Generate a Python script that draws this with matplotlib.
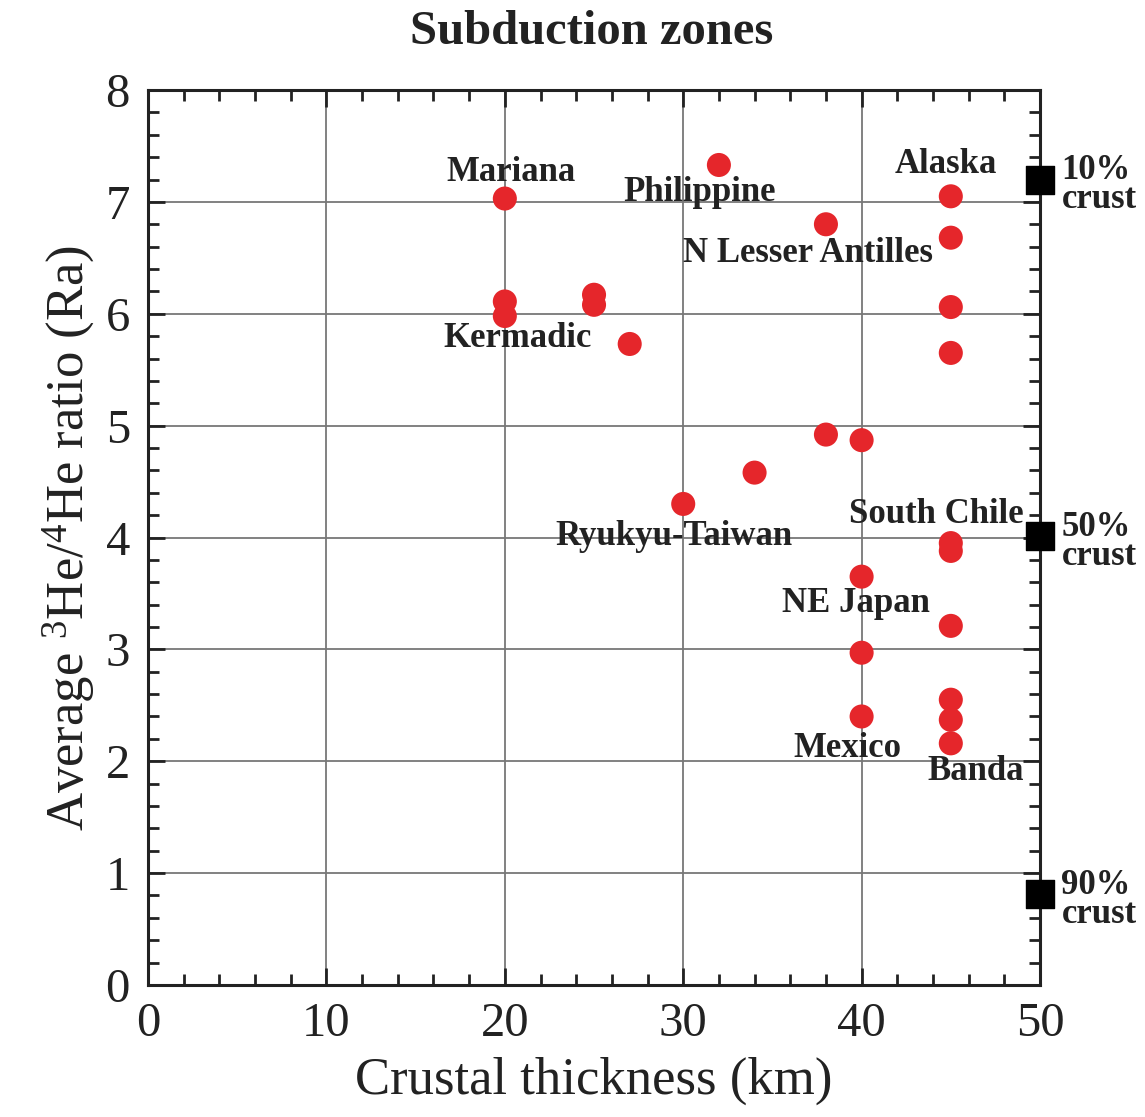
import matplotlib
matplotlib.use("Agg")
import matplotlib.pyplot as plt
from matplotlib.ticker import MultipleLocator

plt.rcParams['font.family'] = ['Liberation Serif', 'DejaVu Serif']
plt.rcParams['mathtext.fontset'] = 'custom'
plt.rcParams['mathtext.rm'] = 'Liberation Serif'
plt.rcParams['mathtext.it'] = 'Liberation Serif:italic'
plt.rcParams['mathtext.bf'] = 'Liberation Serif:bold'

# Data: crustal thickness (km) vs average 3He/4He (Ra)
thickness = [20, 20, 20, 25, 25, 27, 32, 38, 45, 45, 45, 45,
             38, 40, 34, 30, 45, 45, 40, 45, 40, 45, 45, 45, 40]
he_ratio = [7.03, 6.11, 5.98, 6.17, 6.08, 5.73, 7.33, 6.80, 7.05, 6.68, 6.06, 5.65,
            4.92, 4.87, 4.58, 4.30, 3.95, 3.88, 3.65, 3.21, 2.97, 2.55, 2.37, 2.16, 2.40]

crust_x = [50, 50, 50]
crust_y = [7.2, 4.01, 0.81]
crust_labels = ["10%\ncrust", "50%\ncrust", "90%\ncrust"]

zone_labels = ["Mariana", "Philippine", "Alaska", "N Lesser Antilles", "Kermadic",
               "Ryukyu-Taiwan", "South Chile", "NE Japan", "Mexico", "Banda"]
zone_label_x = [20.35, 30.9, 44.7, 37.0, 20.7, 29.5, 44.2, 39.7, 39.2, 46.4]
zone_label_y = [7.26, 7.08, 7.33, 6.54, 5.78, 4.01, 4.21, 3.41, 2.11, 1.91]

fig = plt.figure(figsize=(11.45, 11.17), dpi=100)
ax = fig.add_axes([0.1293, 0.1182, 0.9083 - 0.1293, 0.9194 - 0.1182])

ax.set_xlim(0, 50)
ax.set_ylim(0, 8)
ax.xaxis.set_major_locator(MultipleLocator(10))
ax.xaxis.set_minor_locator(MultipleLocator(2))
ax.yaxis.set_major_locator(MultipleLocator(1))
ax.yaxis.set_minor_locator(MultipleLocator(0.2))
ax.grid(True, which='major', color='#777777', linewidth=1.3, zorder=0)
ax.set_axisbelow(True)
ax.tick_params(which='both', direction='in', top=True, right=True, width=2, colors='#222222',
               labelsize=35, labelcolor='#222222')
ax.tick_params(which='major', length=12)
ax.tick_params(which='minor', length=8)
ax.tick_params(axis='x', which='major', pad=12)
ax.tick_params(axis='y', which='major', pad=13)
for s in ax.spines.values():
    s.set_linewidth(2.2)
    s.set_color('#222222')

ax.scatter(thickness, he_ratio, s=300, color='#E5262B', edgecolors='none', zorder=3)
ax.scatter(crust_x, crust_y, s=380, color='black', marker='s', zorder=4, clip_on=False)

for lab, x, y in zip(zone_labels, zone_label_x, zone_label_y):
    ax.text(x, y, lab, ha='center', va='center', fontsize=25, fontweight='bold', color='#222222', zorder=5)
for lab, y in zip(crust_labels, crust_y):
    ax.text(51.2, y - 0.05, lab, ha='left', va='center', fontsize=25, fontweight='bold',
            color='#222222', linespacing=0.85, clip_on=False)

ax.set_xlabel("Crustal thickness (km)", fontsize=38, color='#222222', labelpad=8)
ax.set_ylabel(r"Average $^{3}$He/$^{4}$He ratio (Ra)", fontsize=38, color='#222222', labelpad=6)
fig.text(0.517, 0.971, "Subduction zones", ha='center', va='center', fontsize=35, fontweight='bold',
         color='#222222')

fig.savefig("out.png", dpi=100)
